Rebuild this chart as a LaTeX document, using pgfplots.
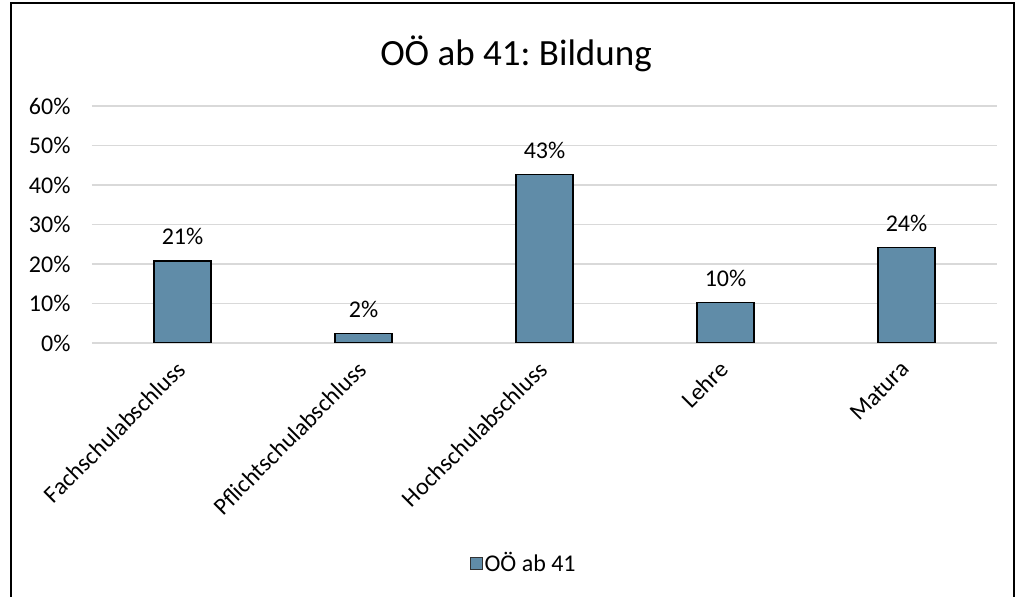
\documentclass[border=0pt]{standalone}
\usepackage{pgfplots}
\pgfplotsset{compat=1.18}
\usepackage{fontspec}
\setmainfont{Carlito}
\frenchspacing
\definecolor{barcol}{RGB}{96,140,168}
\definecolor{gridcol}{RGB}{217,217,217}

\begin{document}
\begin{tikzpicture}[x=1pt,y=1pt]
  \useasboundingbox (0,0) rectangle (1018,597);
  % outer frame
  \draw[line width=2pt] (11,0) -- (11,594) -- (1014,594) -- (1014,0);
  \node[font=\fontsize{37}{40}\selectfont] at (516,543) {OÖ ab 41: Bildung};
  \begin{axis}[
      at={(92pt,254pt)}, anchor=south west,
      scale only axis,
      width=905pt, height=237pt,
      ybar, bar width=57pt,
      ymin=0, ymax=60,
      ytick={0,10,...,60},
      yticklabel={\pgfmathprintnumber{\tick}\%},
      /pgf/number format/assume math mode=true,
      xmin=-0.5, xmax=4.5,
      xtick={0,1,2,3,4},
      xticklabels={Fachschulabschluss,Pflichtschulabschluss,Hochschulabschluss,Lehre,Matura},
      x tick label style={xshift=1pt, yshift=-20pt, rotate=45, anchor=east},
      ymajorgrids, grid style={gridcol, line width=1.2pt},
      axis line style={draw=none},
      major tick length=0pt,
      tick label style={font=\fontsize{24}{26}\selectfont},
      yticklabel style={xshift=-18pt},
      nodes near coords={\pgfmathprintnumber[fixed,precision=0]{\pgfplotspointmeta}\%},
      nodes near coords style={font=\fontsize{24}{26}\selectfont, yshift=12pt, black,
        /pgf/number format/assume math mode=true},
      legend style={at={(0.477,-0.928)}, anchor=center, draw=none,
        font=\fontsize{24}{26}\selectfont},
      legend image code/.code={\draw[fill=barcol, draw=black!80, line width=0.8pt] (0pt,-6pt) rectangle (12pt,6pt);},
    ]
    \addplot[fill=barcol, draw=black, line width=1.5pt] coordinates {
      (0,20.7) (1,2.4) (2,42.7) (3,10.3) (4,24.2)
    };
    \addlegendentry{OÖ ab 41}
  \end{axis}
\end{tikzpicture}
\end{document}
